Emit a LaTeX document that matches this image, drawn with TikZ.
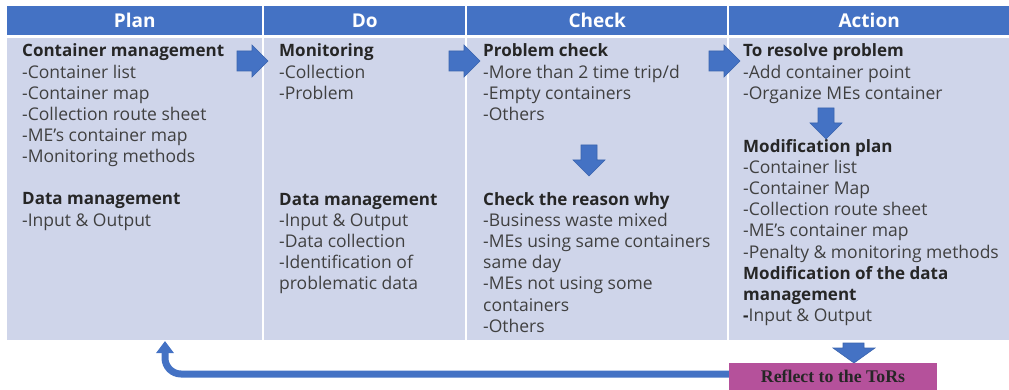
\documentclass[tikz,border=0pt]{standalone}
\usepackage{fontspec}
\setmainfont{Open Sans}
\newfontfamily\torsfont{Liberation Serif}
\usetikzlibrary{arrows.meta}

\definecolor{pdcahead}{HTML}{4472C4}
\definecolor{pdcabody}{HTML}{CFD5EA}
\definecolor{arrowedge}{HTML}{3A64AE}
\definecolor{torsfill}{HTML}{B5519B}
\definecolor{plaingray}{HTML}{404040}
\definecolor{boldgray}{HTML}{262626}

\newcommand\pdcahd[1]{\textcolor{boldgray}{\fontsize{17}{21.2}\selectfont\bfseries #1}}

\tikzset{
  headcell/.style={fill=pdcahead, text=white, inner sep=0pt, anchor=north west,
    minimum height=29, font=\fontsize{19}{22}\selectfont\bfseries},
  bodycell/.style={fill=pdcabody, inner sep=0pt, anchor=north west, minimum height=302},
  % anchored at the baseline of the last line
  items/.style={anchor=base west, align=left, inner sep=0pt, text=plaingray,
    font=\fontsize{17.5}{21.2}\selectfont},
  blockarrow/.style={fill=pdcahead, draw=arrowedge, line width=0.6},
  backarrow/.style={draw=pdcahead, line width=7, rounded corners=16,
    -{Triangle[width=17,length=12]}},
  torsbox/.style={fill=torsfill, inner sep=0pt, minimum width=208, minimum height=27,
    text=boldgray, font=\torsfont\fontsize{17.8}{20}\selectfont\bfseries}
}

\begin{document}
\begin{tikzpicture}[x=1pt,y=-1pt]
\useasboundingbox (0,0) rectangle (1009,390);
% header row
\node[headcell, minimum width=255] (hplan) at (7,6) {Plan};
\node[headcell, minimum width=201] (hdo) at (264,6) {Do};
\node[headcell, minimum width=260] (hcheck) at (467,6) {Check};
\node[headcell, minimum width=280] (haction) at (729,6) {Action};
% body cells
\node[bodycell, minimum width=255] (bplan) at (7,38) {};
\node[bodycell, minimum width=201] (bdo) at (264,38) {};
\node[bodycell, minimum width=260] (bcheck) at (467,38) {};
\node[bodycell, minimum width=280] (baction) at (729,38) {};

% plan
\node[items] (plantop) at (22,163) {\pdcahd{Container management}\\-Container list\\-Container map\\
  -Collection route sheet\\-ME’s container map\\-Monitoring methods};
\node[items] (plandata) at (22,226.2) {\pdcahd{Data management}\\-Input \& Output};
% do
\node[items] (dotop) at (279,99.4) {\pdcahd{Monitoring}\\-Collection\\-Problem};
\node[items] (dodata) at (279,289.8) {\pdcahd{Data management}\\-Input \& Output\\-Data collection\\
  -Identification of\\problematic data};
% check
\node[items] (checktop) at (483,120.6) {\pdcahd{Problem check}\\-More than 2 time trip/d\\
  -Empty containers\\-Others};
\node[items] (checkwhy) at (483,332.2) {\pdcahd{Check the reason why}\\-Business waste mixed\\
  -MEs using same containers\\same day\\-MEs not using some\\containers\\-Others};
% action
\node[items] (actiontop) at (743,99.4) {\pdcahd{To resolve problem}\\-Add container point\\
  -Organize MEs container};
\node[items] (actionmod) at (743,321.6) {\pdcahd{Modification plan}\\-Container list\\-Container Map\\
  -Collection route sheet\\-ME’s container map\\-Penalty \& monitoring methods\\
  \pdcahd{Modification of the data}\\\pdcahd{management}\\\pdcahd{-}Input \& Output};

% block arrows
\foreach \x in {237,449,709}
  \filldraw[blockarrow] (\x,51) -- ++(15,0) -- ++(0,-6) -- ++(16,16) -- ++(-16,16)
    -- ++(0,-6) -- ++(-15,0) -- cycle;
\foreach \x/\y in {589/145,826/108}
  \filldraw[blockarrow] ({\x-8},\y) -- ++(16,0) -- ++(0,15) -- ++(8,0) -- ++(-16,16)
    -- ++(-16,-16) -- ++(8,0) -- cycle;
\filldraw[blockarrow] (843,343) -- (864,343) -- (864,348) -- (875,348) -- (854,363)
  -- (833,348) -- (843,348) -- cycle;

% feedback to plan
\node[torsbox] (tors) at (833,376.5) {Reflect to the ToRs};
\coordinate (back) at (165,341);
\draw[backarrow] ([yshift=2.5pt]tors.west) -| (back);
\end{tikzpicture}
\end{document}
